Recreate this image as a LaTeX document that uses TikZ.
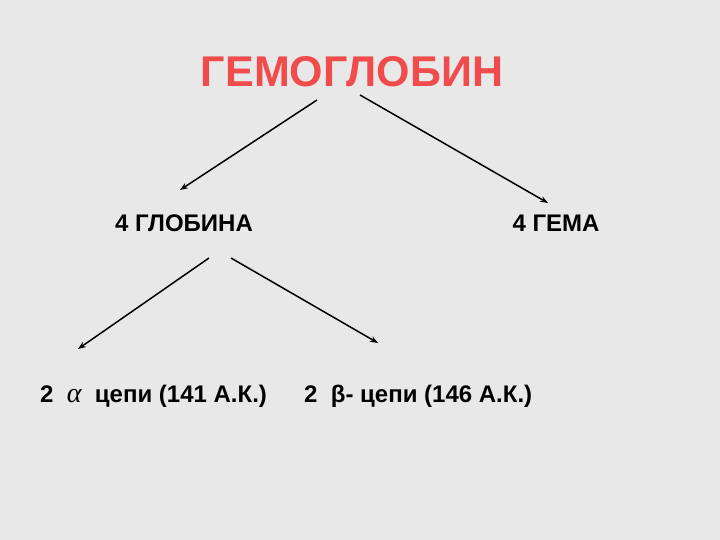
\documentclass[tikz,border=0pt]{standalone}
\usepackage{fontspec}
\setmainfont{Liberation Sans}
\newfontfamily\alphafont{Liberation Serif}
\usetikzlibrary{arrows.meta}

\definecolor{slidebg}{RGB}{232,232,232}
\definecolor{titlered}{RGB}{240,76,76}

\begin{document}
\begin{tikzpicture}[x = 1pt, y = -1pt,
	label/.style = {inner sep = 0pt, font = \fontsize{24}{28}\selectfont\bfseries},
	arr/.style = {line width = 1.5pt, -{Stealth[length = 8pt, width = 6pt]}}]
	\fill[slidebg] (0, 0) rectangle (720, 540);
	\useasboundingbox (0, 0) rectangle (720, 540);
	
	\node[anchor = base, inner sep = 0pt, text = titlered, font = \fontsize{43}{50}\selectfont\bfseries] (hemoglobin) at (352, 87) {ГЕМОГЛОБИН};
	
	\node[label, anchor = base] (globin) at (184, 232) {4 ГЛОБИНА};
	\node[label, anchor = base] (heme) at (556, 232) {4 ГЕМА};
	
	\node[label, anchor = base west] (alpha) at (40, 402) {2\ \ {\alphafont\mdseries\itshape\fontsize{28}{30}\selectfont α}\ \ цепи (141 А.К.)};
	\node[label, anchor = base west] (beta) at (304, 402) {2\ \ β- цепи (146 А.К.)};
	
	% arrow ends
	\coordinate (hemoglobin-l) at (317, 100);
	\coordinate (hemoglobin-r) at (360, 95);
	\coordinate (globin-in) at (180, 190);
	\coordinate (heme-in) at (548, 203);
	\coordinate (globin-l) at (209, 258);
	\coordinate (globin-r) at (231, 258);
	\coordinate (alpha-in) at (78, 349);
	\coordinate (beta-in) at (378, 343);
	
	\draw[arr] (hemoglobin-l) -- (globin-in);
	\draw[arr] (hemoglobin-r) -- (heme-in);
	\draw[arr] (globin-l) -- (alpha-in);
	\draw[arr] (globin-r) -- (beta-in);
\end{tikzpicture}
\end{document}
